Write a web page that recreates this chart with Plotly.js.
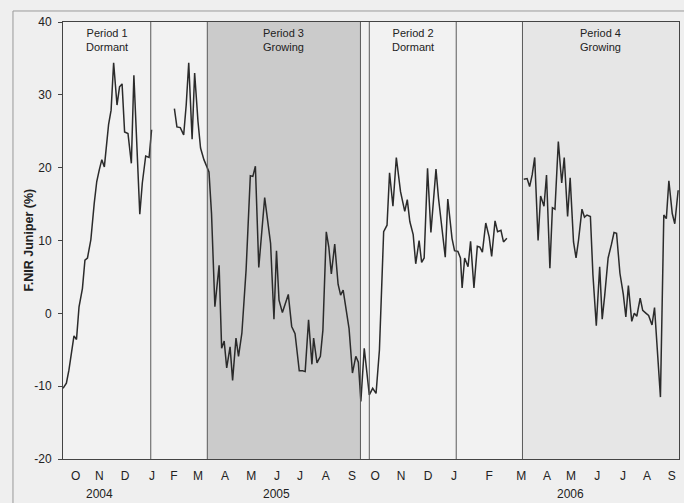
<!DOCTYPE html>
<html>
<head>
<meta charset="utf-8">
<script src="https://cdn.plot.ly/plotly-3.0.1.min.js"></script>
<style>
html,body{margin:0;padding:0;background:#efefef;}
#chart{width:684px;height:503px;}
</style>
</head>
<body>
<div id="chart"></div>
<script>
// x values: days since 1 Oct 2004
const days1 = [0,4,7,11,13,16,19,23,26,29,33,37,40,43,46,49,54,57,60,64,67,70,73,77,81,84,91,94,98,102,105];
const vals1 = [-10.3,-9.6,-7.8,-5.0,-3.1,-3.6,0.9,3.4,7.3,7.6,10.1,15.1,18.1,19.7,21.1,20.1,25.9,27.9,34.4,28.6,31.1,31.5,24.9,24.7,20.6,32.7,13.6,17.9,21.6,21.4,25.2];

const days2 = [132,135,139,143,146,149,153,156,160,163,167,173,176,180,185,188,191,194,198,201,205,208,212,217,222,225,228,232,239,246,250,253,256,260,267,271,275,280,284,287,291,295,297,301,305,308,312,315,318,322,326,329,332,335,339,343,347,350,353,357,360,363,367,371,375,380,384,387,391,395,400,405,408,411,415,418,422,425,428,432,436,442,445,449,453,456,461,464,468,471,473,476,480,483,487,491,494,497,501,505,508,512,515,519,522,526];
const vals2 = [28.1,25.6,25.5,24.5,28.6,34.4,23.9,33.0,26.3,22.7,21.1,19.4,13.7,0.9,6.6,-4.8,-3.8,-7.5,-4.6,-9.2,-3.4,-5.9,-2.7,6.0,18.9,18.8,20.2,6.3,15.9,9.6,-0.8,8.6,1.8,0.1,2.6,-1.8,-2.8,-7.9,-7.9,-8.0,-0.9,-7.0,-3.4,-6.8,-5.9,-2.3,11.2,9.1,5.4,9.5,4.0,2.5,3.2,0.9,-2.1,-8.2,-5.9,-6.7,-12.1,-4.8,-8.5,-11.2,-10.3,-11.0,-5.0,11.2,12.1,19.3,14.7,21.4,16.7,14.0,15.6,12.6,10.8,6.8,10.0,7.0,7.6,19.9,11.1,19.8,15.8,11.4,7.7,15.7,10.3,8.6,8.5,7.6,3.5,7.6,6.4,9.9,3.5,9.2,9.1,8.4,12.4,10.5,7.8,12.7,11.2,11.4,9.8,10.3];

const days3 = [546,550,553,556,559,563,566,570,573,577,580,583,587,591,594,598,601,605,608,611,615,618,621,625,628,632,636,639,642,646,650,653,656,660,664,667,670,674,677,680,684,687,691,694,698,701,708,712,715,718,722,725,729];
const vals3 = [18.4,18.5,17.4,19.0,21.4,10.0,16.1,14.7,19.0,6.2,14.5,14.3,23.6,17.9,21.4,13.3,18.6,9.8,7.6,10.1,14.3,13.2,13.5,13.3,5.3,-1.7,6.4,-0.8,2.5,7.6,9.5,11.1,11.0,5.5,2.6,-0.5,3.8,-1.1,0.0,-0.4,2.1,0.4,0.0,-0.3,-1.6,0.8,-11.5,13.5,13.0,18.2,13.7,12.3,16.9];

// period boundaries (days) and labels
const boundaries = [104, 171, 352.5, 363, 466, 544.5, 730];
const periodStarts = [0, 171, 363, 544.5];
const periodEnds = [104, 352.5, 466, 730];
const periodLabels = ["Period 1<br>Dormant", "Period 3<br>Growing", "Period 2<br>Dormant", "Period 4<br>Growing"];

// month tick labels
const monthTickVals = [15,43,73.5,105.5,131.5,160,192,223,253.5,281,311.5,342.5,370,400.5,432.5,463.5,505,543,573.5,602,633,663.5,692,721.5];
const monthTickText = ["O","N","D","J","F","M","A","M","J","J","A","S","O","N","D","J","F","M","A","M","J","J","A","S"];
const yearVals = [43, 252.5, 601.5];
const yearText = ["2004", "2005", "2006"];
const yTickVals = [-20,-10,0,10,20,30,40];
const yTickText = ["-20","-10","0","10","20","30","40"];
const yTitle = "F.NIR Juniper (%)";

const xs = days1.concat([null], days2, [null], days3);
const ys = vals1.concat([null], vals2, [null], vals3);

const trace = {
  x: xs, y: ys, type: 'scatter', mode: 'lines',
  connectgaps: false,
  line: {color: '#2b2b2b', width: 1.5},
  hoverinfo: 'skip'
};

const shapes = [
  {type:'rect', xref:'x', yref:'paper', x0: periodStarts[1], x1: periodEnds[1], y0:0, y1:1, fillcolor:'#cbcbcb', line:{width:0}, layer:'below'},
  {type:'rect', xref:'x', yref:'paper', x0: periodStarts[3], x1: periodEnds[3], y0:0, y1:1, fillcolor:'#e6e6e6', line:{width:0}, layer:'below'}
];
boundaries.slice(0, 6).forEach(b => {
  shapes.push({type:'line', xref:'x', yref:'paper', x0:b, x1:b, y0:0, y1:1, line:{color:'#5a5a5a', width:1}, layer:'above'});
});
// outer frame
shapes.push({type:'rect', xref:'paper', yref:'paper', x0:-0.0812, x1:1.03, y0:-0.15, y1:1.0252, line:{color:'#9a9a9a', width:1}, fillcolor:'rgba(0,0,0,0)', layer:'below'});

const annotations = [];
periodLabels.forEach((t, i) => {
  annotations.push({x:(periodStarts[i]+periodEnds[i])/2, xref:'x', y:1, yref:'paper', yanchor:'top', yshift:-3,
    text:t, showarrow:false, font:{family:'Liberation Sans, Arial, sans-serif', size:11, color:'#222'}});
});
yearVals.forEach((v, i) => {
  annotations.push({x:v, xref:'x', y:0, yref:'paper', yanchor:'middle', yshift:-35,
    text:yearText[i], showarrow:false, font:{family:'Liberation Sans, Arial, sans-serif', size:12, color:'#222'}});
});
// y axis title as rotated annotation
annotations.push({x:0, xref:'paper', xshift:-35, y:0.5, yref:'paper', xanchor:'center', yanchor:'middle',
  textangle:-90, text:'<b>'+yTitle+'</b>', showarrow:false,
  font:{family:'Liberation Sans, Arial, sans-serif', size:12.5, color:'#222'}});

const layout = {
  width:684, height:503,
  margin:{l:63, r:5, t:22, b:44},
  paper_bgcolor:'#efefef', plot_bgcolor:'#f2f2f2',
  showlegend:false,
  font:{family:'Liberation Sans, Arial, sans-serif', size:12, color:'#222'},
  xaxis:{range:[0,730], tickmode:'array', tickvals:monthTickVals, ticktext:monthTickText,
    showgrid:false, zeroline:false, showline:true, mirror:true, linecolor:'#444', linewidth:1,
    ticks:'', ticklabelstandoff:6, tickfont:{size:12, color:'#222'}},
  yaxis:{range:[-20,40], tickmode:'array', tickvals:yTickVals, ticktext:yTickText,
    showgrid:false, zeroline:false,
    showline:true, mirror:true, linecolor:'#444', linewidth:1,
    ticks:'outside', ticklen:4, tickcolor:'#444', ticklabelstandoff:4, tickfont:{size:12, color:'#222'}},
  shapes:shapes, annotations:annotations
};

Plotly.newPlot('chart', [trace], layout, {displayModeBar:false, staticPlot:true});
</script>
</body>
</html>
